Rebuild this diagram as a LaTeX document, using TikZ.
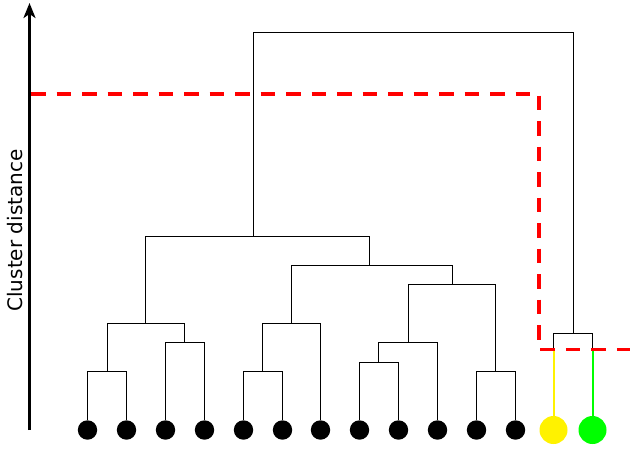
\documentclass[tikz,border=0pt]{standalone}
\usepackage{fontspec}
\setsansfont{DejaVu Sans}
\usetikzlibrary{arrows.meta}
\begin{document}
\begin{tikzpicture}[x=1pt,y=-1pt,
  leaf/.style={circle,fill=black,draw=none,minimum size=19.4pt,inner sep=0pt},
  bigleaf/.style={circle,draw=none,minimum size=28pt,inner sep=0pt},
  tree/.style={draw=black,line width=1.1pt},
  reddash/.style={draw=red,line width=3.6pt,dash pattern=on 14.5pt off 11pt},
  axisline/.style={draw=black,line width=2.5pt,-{Stealth[length=15pt,width=12pt,inset=4pt]}}]
\useasboundingbox (0,0) rectangle (637,453);
% leaves
\foreach \i/\x in {1/87.5,2/126.5,3/165.5,4/204.5,5/243.5,6/282.5,7/320.5,8/359.5,9/398.5,10/437.5,11/476.5,12/515.5}
  \node[leaf] (l\i) at (\x,430) {};
\node[bigleaf,fill=yellow] (l13) at (553.5,430) {};
\node[bigleaf,fill=green] (l14) at (592.5,430) {};
% merge points
\coordinate (A) at (107.5,371.5);
\coordinate (B) at (184.5,342.5);
\coordinate (C) at (145.5,323.5);
\coordinate (D) at (262.5,371.5);
\coordinate (E) at (291.5,323.5);
\coordinate (F) at (378.5,362.5);
\coordinate (G) at (408.5,342.5);
\coordinate (H) at (495.5,371.5);
\coordinate (I) at (452.5,284.5);
\coordinate (J) at (369.5,265.5);
\coordinate (K) at (253.5,236.5);
\coordinate (M) at (573.5,333.5);
\coordinate (T) at (413,32.5);
\coordinate (cy) at (553.5,349.3);
\coordinate (cg) at (592.5,349.3);
% tree
\draw[tree] (l1) |- (A) -| (l2);
\draw[tree] (l3) |- (B) -| (l4);
\draw[tree] (A) |- (C) -| (B);
\draw[tree] (l5) |- (D) -| (l6);
\draw[tree] (D) |- (E) -| (l7);
\draw[tree] (l8) |- (F) -| (l9);
\draw[tree] (F) |- (G) -| (l10);
\draw[tree] (l11) |- (H) -| (l12);
\draw[tree] (G) |- (I) -| (H);
\draw[tree] (E) |- (J) -| (I);
\draw[tree] (C) |- (K) -| (J);
\draw[tree] (cy) |- (M) -| (cg);
\draw[tree] (K) |- (T) -| (M);
\draw[draw=yellow,line width=2pt] (cy) -- (l13);
\draw[draw=green,line width=2pt] (cg) -- (l14);
% cut line
\coordinate (r0) at (31,93.7);
\coordinate (r2) at (539,349.3);
\coordinate (r3) at (630,349.3);
\draw[reddash] (r0) -| (r2) -- (r3);
% axis
\coordinate (ax0) at (29.5,430);
\coordinate (ax1) at (29.5,3);
\draw[axisline] (ax0) -- (ax1);
\node[rotate=90,font=\sffamily\fontsize{20}{24}\selectfont,inner sep=0pt] (lab) at (15,230.5) {Cluster distance};
\end{tikzpicture}
\end{document}
